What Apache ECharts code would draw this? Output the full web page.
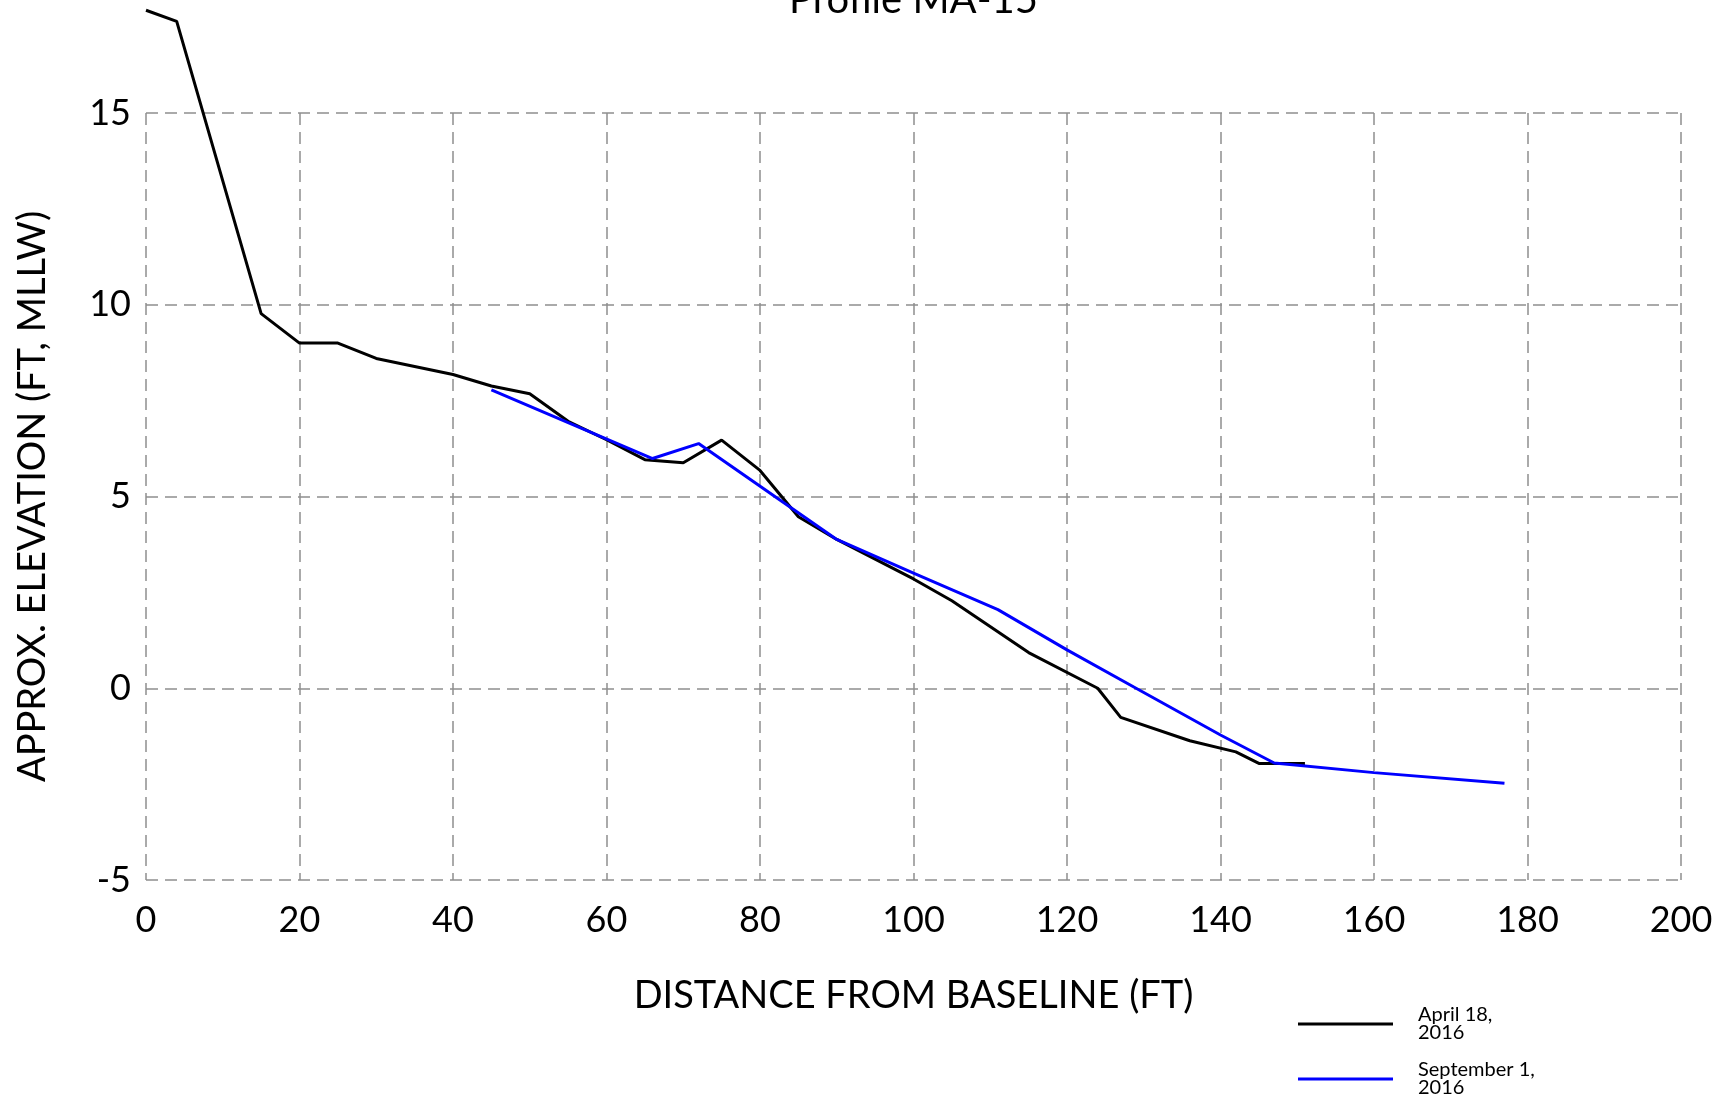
<!DOCTYPE html>
<html>
<head>
<meta charset="utf-8">
<script src="https://cdn.jsdelivr.net/npm/echarts@6/dist/echarts.min.js"></script>
<style>
  html, body { margin: 0; padding: 0; background: #fff; }
  #chart { width: 1721px; height: 1102px; }
</style>
</head>
<body>
<div id="chart"></div>
<script>
const titleText = "Profile MA-15";
const xName = "DISTANCE FROM BASELINE (FT)";
const yName = "APPROX. ELEVATION (FT, MLLW)";

// April 18, 2016 survey: [distance, elevation]
const aprilX = [0, 4, 15, 20, 25, 30, 40, 45, 50, 55, 60, 65, 70, 75, 80, 85, 90, 100, 105, 115, 124, 127, 136, 142, 145, 151];
const aprilY = [17.68, 17.39, 9.77, 9.0, 9.0, 8.6, 8.18, 7.88, 7.68, 6.96, 6.48, 5.96, 5.88, 6.47, 5.68, 4.47, 3.88, 2.85, 2.28, 0.93, 0.0, -0.76, -1.37, -1.66, -1.96, -1.96];

// September 1, 2016 survey
const septX = [45, 66, 72, 90, 100, 111, 120, 129, 140, 147, 160, 177];
const septY = [7.78, 5.99, 6.38, 3.88, 3.0, 2.05, 1.0, 0.0, -1.22, -1.95, -2.2, -2.48];

const seriesNames = ["April 18,\n2016", "September 1,\n2016"];
const seriesColors = ["#000000", "#0000ff"];

const pairUp = (xs, ys) => xs.map((x, i) => [x, ys[i]]);

const font = "Lato, 'Open Sans', sans-serif";
const gridLine = { show: true, lineStyle: { color: "#8f8f8f", width: 1.5, type: [12, 7] } };

// centre the title over the plot area, not the page
const plotLeft = 146;
const plotRight = 40;
const titleSize = 40;
const measure = document.createElement("canvas").getContext("2d");
measure.font = `${titleSize}px Lato`;
const titleWidth = measure.measureText(titleText).width;
const titleLeft = (plotLeft + (1721 - plotRight)) / 2 - titleWidth / 2;

const chart = echarts.init(document.getElementById("chart"));

chart.setOption({
  backgroundColor: "#fff",
  animation: false,
  title: {
    text: titleText,
    left: titleLeft,
    top: -20,
    padding: 0,
    textStyle: { fontFamily: font, fontSize: titleSize, fontWeight: "normal", color: "#000" },
  },
  grid: { left: plotLeft, right: plotRight, top: 113, bottom: 222, containLabel: false },
  legend: {
    orient: "vertical",
    left: 1298,
    top: 1005,
    height: 200,
    padding: 0,
    icon: "rect",
    itemWidth: 95,
    itemHeight: 3,
    itemGap: 17,
    textStyle: { fontFamily: font, fontSize: 20, lineHeight: 18, color: "#000", padding: [0, 0, 0, 20] },
    data: seriesNames,
  },
  xAxis: {
    type: "value",
    min: 0,
    max: 200,
    interval: 20,
    name: xName,
    nameLocation: "middle",
    nameGap: 97,
    nameTextStyle: { fontFamily: font, fontSize: 38, color: "#000" },
    axisLine: { show: false },
    axisTick: { show: false },
    axisLabel: { fontFamily: font, fontSize: 36, color: "#000", margin: 22 },
    splitLine: gridLine,
  },
  yAxis: {
    type: "value",
    min: -5,
    max: 15,
    interval: 5,
    name: yName,
    nameLocation: "middle",
    nameGap: 94,
    nameTextStyle: { fontFamily: font, fontSize: 38, color: "#000" },
    axisLine: { show: false },
    axisTick: { show: false },
    axisLabel: { fontFamily: font, fontSize: 36, color: "#000", margin: 15 },
    splitLine: gridLine,
  },
  series: [
    {
      name: seriesNames[0],
      type: "line",
      data: pairUp(aprilX, aprilY),
      symbol: "none",
      clip: false,
      color: seriesColors[0],
      lineStyle: { color: seriesColors[0], width: 3 },
    },
    {
      name: seriesNames[1],
      type: "line",
      data: pairUp(septX, septY),
      symbol: "none",
      clip: false,
      color: seriesColors[1],
      lineStyle: { color: seriesColors[1], width: 3 },
    },
  ],
});
</script>
</body>
</html>
